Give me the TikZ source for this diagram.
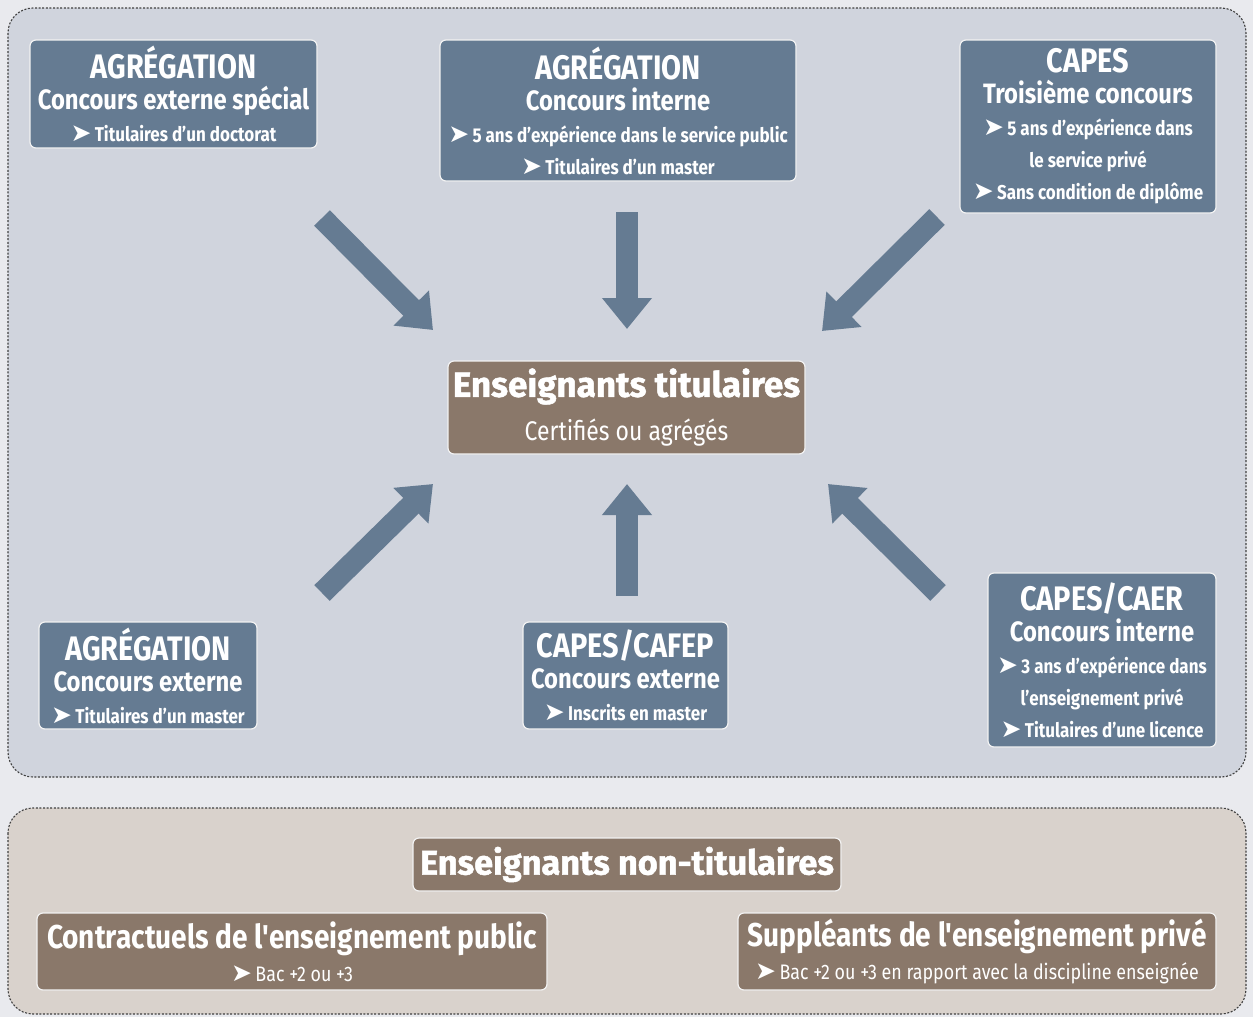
\documentclass[tikz,border=0pt]{standalone}
\usepackage{fontspec}
\setmainfont{Fira Sans}
\newfontfamily\cond[FakeStretch=0.85]{Fira Sans}
\newfontfamily\heavy[FakeStretch=1.0,FakeBold=1.4]{Fira Sans}
\newfontfamily\dejavu{DejaVu Sans}
\usetikzlibrary{arrows.meta}
\definecolor{bgc}{HTML}{E9EAEE}
\definecolor{paneltop}{HTML}{D0D4DD}
\definecolor{panelbot}{HTML}{D9D2CC}
\definecolor{bluebox}{HTML}{657B92}
\definecolor{brownbox}{HTML}{8A786A}
\definecolor{edge}{HTML}{F2F2F2}
\newcommand\tightlines{\lineskiplimit=-100pt\relax\lineskip=0pt\relax}
\newcommand\ttlline[1]{{\fontsize{34}{32}\selectfont #1}}
\newcommand\subline[1]{{\fontsize{28}{32}\selectfont #1}}
\newcommand\itm{{\dejavu\fontsize{25}{25}\selectfont ➤}\,}
\begin{document}
\begin{tikzpicture}[x=1pt,y=-1pt,
  panel/.style={rounded corners=25pt, draw=black!75, line width=1.1pt, dash pattern=on 2pt off 1.6pt},
  boxbase/.style={rounded corners=6pt, draw=edge, line width=1.2pt, text=white, inner sep=0pt, align=center,
     font=\cond\bfseries\fontsize{20}{32}\selectfont\tightlines},
  bbox/.style={boxbase, fill=bluebox},
  rbox/.style={boxbase, fill=brownbox},
  bigarrow/.style={draw=bluebox, line width=22pt, -{Triangle[width=48pt,length=31pt]}}]
\fill[bgc] (0,0) rectangle (1253,1017);
\useasboundingbox (0,0) rectangle (1253,1017);
\filldraw[panel, fill=paneltop] (8,8) rectangle (1246,777);
\filldraw[panel, fill=panelbot] (8,808) rectangle (1246,1014);

\node[bbox, minimum width=287pt, minimum height=108pt] (a1) at (173.5,94)
  {\ttlline{AGRÉGATION}\\[-1pt] \subline{Concours externe spécial}\\ \itm Titulaires d’un doctorat};
\node[bbox, minimum width=356pt, minimum height=141pt] (a2) at (618,110.5)
  {\ttlline{AGRÉGATION}\\[-1pt] \subline{Concours interne}\\ \itm 5 ans d’expérience dans le service public\\ \itm Titulaires d’un master};
\node[bbox, minimum width=256pt, minimum height=173pt] (c3) at (1088,126.5)
  {\ttlline{CAPES}\\[-1pt] \subline{Troisième concours}\\ \itm 5 ans d’expérience dans\\ le service privé\\ \itm Sans condition de diplôme};
\node[rbox, minimum width=357pt, minimum height=93pt] (t) at (626.5,407.5)
  {{\heavy\bfseries\fontsize{35}{44}\selectfont Enseignants titulaires}\\[12pt] {\mdseries\fontsize{27}{33}\selectfont Certifiés ou agrégés}};
\node[bbox, minimum width=218pt, minimum height=107pt] (a4) at (148,675.5)
  {\ttlline{AGRÉGATION}\\[-1pt] \subline{Concours externe}\\ \itm Titulaires d’un master};
\node[bbox, minimum width=205pt, minimum height=107pt] (c5) at (625.5,675.5)
  {\ttlline{CAPES/CAFEP}\\[-1pt] \subline{Concours externe}\\ \itm Inscrits en master};
\node[bbox, minimum width=228pt, minimum height=174pt] (c6) at (1102,660)
  {\ttlline{CAPES/CAER}\\[-1pt] \subline{Concours interne}\\ \itm 3 ans d’expérience dans\\ l’enseignement privé\\ \itm Titulaires d’une licence};

\node[rbox, minimum width=428pt, minimum height=53pt] (nt) at (627,864.5)
  {{\heavy\bfseries\fontsize{34.3}{35}\selectfont Enseignants non-titulaires}};
\node[rbox, minimum width=510pt, minimum height=77pt] (cp) at (292,951.5)
  {{\fontsize{33}{36}\selectfont Contractuels de l'enseignement public}\\[1pt] {\mdseries\fontsize{21}{32}\selectfont \itm Bac +2 ou +3}};
\node[rbox, minimum width=478pt, minimum height=77pt] (sp) at (977,951.5)
  {{\fontsize{33}{36}\selectfont Suppléants de l'enseignement privé}\\[1pt] {\mdseries\fontsize{21}{32}\selectfont \itm Bac +2 ou +3 en rapport avec la discipline enseignée}};

\coordinate (tl0) at (322,218); \coordinate (tl1) at (433,330);
\coordinate (tm0) at (627,212); \coordinate (tm1) at (627,329);
\coordinate (tr0) at (937,217); \coordinate (tr1) at (822,331);
\coordinate (bl0) at (322,593); \coordinate (bl1) at (433,484);
\coordinate (bm0) at (627,596); \coordinate (bm1) at (627,484);
\coordinate (br0) at (938,593); \coordinate (br1) at (828,484);
\foreach \p in {tl,tm,tr,bl,bm,br} \draw[bigarrow] (\p0) -- (\p1);
\end{tikzpicture}
\end{document}
